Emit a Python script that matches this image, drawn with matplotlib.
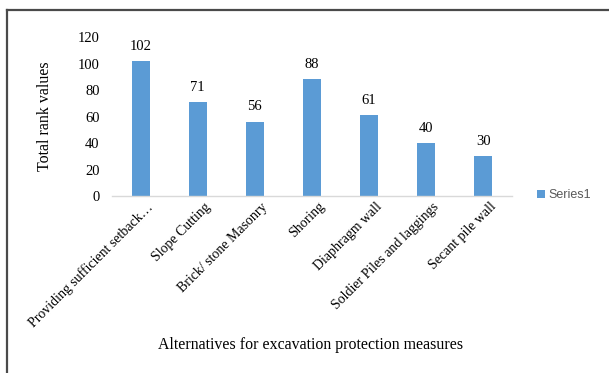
import matplotlib.pyplot as plt
from matplotlib.lines import Line2D
from matplotlib.patches import Patch
from matplotlib.transforms import ScaledTranslation

categories = [
    "Providing sufficient setback…",
    "Slope Cutting",
    "Brick/ stone Masonry",
    "Shoring",
    "Diaphragm wall",
    "Soldier Piles and laggings",
    "Secant pile wall",
]
rank_values = [102, 71, 56, 88, 61, 40, 30]
y_ticks = [0, 20, 40, 60, 80, 100, 120]

serif = ["Liberation Serif", "DejaVu Serif"]
bar_color = "#5B9BD5"

fig = plt.figure(figsize=(6.09, 3.73), dpi=100)
ax = fig.add_axes([112 / 609, 0.4745, 400 / 609, 0.4263])

x = range(len(categories))
bars = ax.bar(x, rank_values, width=0.315, color=bar_color, zorder=2)
for rect, v in zip(bars, rank_values):
    ax.annotate(str(v), (rect.get_x() + rect.get_width() / 2, v),
                xytext=(0, 6), textcoords="offset points",
                ha="center", va="bottom", fontsize=10.5, family=serif)

ax.set_xlim(-0.5, len(categories) - 0.5)
ax.set_ylim(0, 120)
ax.set_yticks(y_ticks)
ax.set_yticklabels([str(t) for t in y_ticks], family=serif, fontsize=10.5)
ax.set_xticks(list(x))
ax.set_xticklabels(categories, rotation=45, ha="right", rotation_mode="anchor",
                   family=serif, fontsize=10)
ax.tick_params(axis="both", length=0)
ax.tick_params(axis="y", pad=9)
ax.tick_params(axis="x", pad=3)

# nudge rotated labels so their ends sit right of the bar centre
shift = ScaledTranslation(6 / 100, 0, fig.dpi_scale_trans)
for lbl in ax.get_xticklabels():
    lbl.set_transform(lbl.get_transform() + shift)

for side in ("top", "right", "left"):
    ax.spines[side].set_visible(False)
ax.spines["bottom"].set_color("#D9D9D9")
ax.spines["bottom"].set_linewidth(1.0)

ax.set_ylabel("Total rank values", family=serif, fontsize=11.5, labelpad=18)
fig.text(310.5 / 609, 1 - 345 / 373, "Alternatives for excavation protection measures",
         ha="center", va="center", family=serif, fontsize=11.4)

fig.legend(handles=[Patch(facecolor=bar_color, label="Series1")],
           loc="center left", bbox_to_anchor=(537 / 609, 1 - 195 / 373),
           frameon=False, borderpad=0, borderaxespad=0,
           handlelength=0.6, handleheight=0.6,
           handletextpad=0.35, labelcolor="#595959",
           prop={"family": ["Liberation Sans", "DejaVu Sans"], "size": 9})

# outer frame (only top and left edges are visible in the crop)
fig.add_artist(Line2D([6.5 / 609, 6.5 / 609], [0, 1 - 9.5 / 373],
                      transform=fig.transFigure, color="#4a4a4a", linewidth=1.6))
fig.add_artist(Line2D([6.5 / 609, 1], [1 - 9.5 / 373, 1 - 9.5 / 373],
                      transform=fig.transFigure, color="#4a4a4a", linewidth=1.6))

fig.savefig("out.png", dpi=100)
